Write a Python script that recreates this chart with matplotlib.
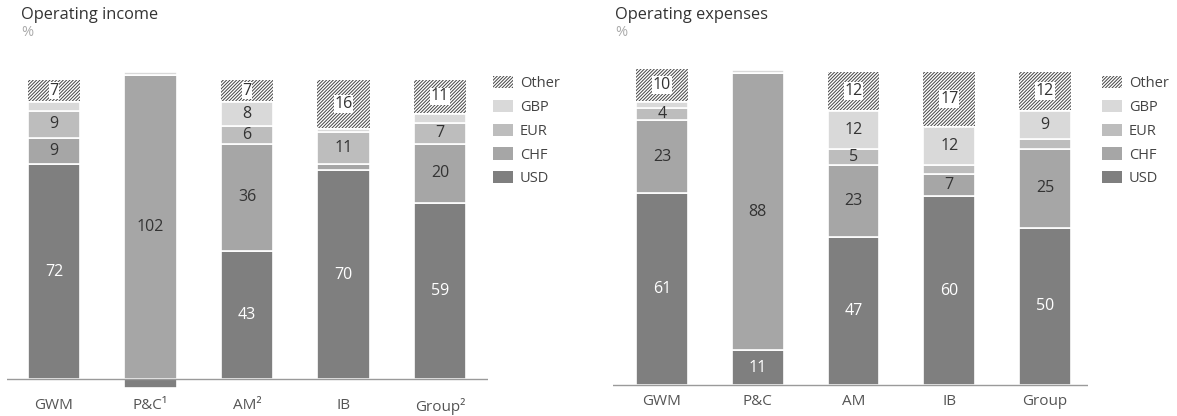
import numpy as np
import matplotlib
matplotlib.use("Agg")
import matplotlib.pyplot as plt
from matplotlib.patches import Patch

plt.rcParams['font.family'] = ['Open Sans', 'DejaVu Sans']
plt.rcParams['hatch.linewidth'] = 0.7

# data (percent)
segments = ['GWM', 'P&C', 'AM', 'IB', 'Group']
income_ticks = ['GWM', 'P&C\u00b9', 'AM\u00b2', 'IB', 'Group\u00b2']
expense_ticks = ['GWM', 'P&C', 'AM', 'IB', 'Group']

income_usd = [72, -3, 43, 70, 59]
income_chf = [9, 102, 36, 2, 20]
income_eur = [9, 0, 6, 11, 7]
income_gbp = [3, 1, 8, 1, 3]
income_other = [7, 0, 7, 16, 11]

expense_usd = [61, 11, 47, 60, 50]
expense_chf = [23, 88, 23, 7, 25]
expense_eur = [4, 0, 5, 3, 3]
expense_gbp = [2, 1, 12, 12, 9]
expense_other = [10, 0, 12, 17, 12]

currencies = ['USD', 'CHF', 'EUR', 'GBP', 'Other']
colors = {'USD': '#7f7f7f', 'CHF': '#a6a6a6', 'EUR': '#bdbdbd',
          'GBP': '#d9d9d9', 'Other': 'white'}
HATCH = '//////////'

W, H = 1177, 416
fig = plt.figure(figsize=(W / 100, H / 100), dpi=100)


def px_axes(x0, x1, ytop, ybot):
    return fig.add_axes([x0 / W, (H - ybot) / H, (x1 - x0) / W, (ybot - ytop) / H])


def draw(ax, data, ticks, xlim, ylim):
    x = np.arange(len(segments))
    width = 0.54
    pos = np.zeros(len(x))
    neg = np.zeros(len(x))
    for cur in currencies:
        vals = np.array(data[cur], dtype=float)
        bottoms = np.where(vals >= 0, pos, neg)
        if cur == 'Other':
            ax.bar(x, vals, width, bottom=bottoms + 0.3, color='white',
                   edgecolor='#444444', linewidth=0, hatch=HATCH)
        else:
            ax.bar(x, vals, width, bottom=bottoms, color=colors[cur],
                   edgecolor='white', linewidth=1.2)
        for i, v in enumerate(vals):
            if abs(v) < 4:
                continue
            yc = bottoms[i] + v / 2
            if cur == 'Other':
                ax.text(x[i], yc + 0.3, f'{v:.0f}', ha='center', va='center',
                        fontsize=11.5, color='#333333',
                        bbox=dict(facecolor='white', edgecolor='none', pad=0.6))
            else:
                ax.text(x[i], yc, f'{v:.0f}', ha='center', va='center', fontsize=11.5,
                        color='white' if cur == 'USD' else '#333333')
        pos = np.where(vals >= 0, pos + vals, pos)
        neg = np.where(vals < 0, neg + vals, neg)
    ax.axhline(0, color='#9a9a9a', linewidth=1)
    ax.set_xlim(*xlim)
    ax.set_ylim(*ylim)
    ax.set_xticks(x)
    ax.set_xticklabels(ticks, fontsize=11, color='#555555')
    ax.tick_params(axis='x', length=0, pad=3.2)
    ax.set_yticks([])
    for s in ax.spines.values():
        s.set_visible(False)


income = dict(zip(currencies, [income_usd, income_chf, income_eur, income_gbp, income_other]))
expense = dict(zip(currencies, [expense_usd, expense_chf, expense_eur, expense_gbp, expense_other]))

ax1 = px_axes(7, 488, 66.1, 393.9)
draw(ax1, income, income_ticks, (-0.487, 4.497), (-5, 105))

ax2 = px_axes(613, 1088, 54.25, 389.1)
draw(ax2, expense, expense_ticks, (-0.512, 4.45), (-1.3, 105))

# titles
for xt, title in [(21, 'Operating income'), (615, 'Operating expenses')]:
    fig.text(xt / W, 1 - 15 / H, title, fontsize=11.8, color='#333333', va='center')
    fig.text(xt / W, 1 - 33 / H, '%', fontsize=10.5, color='#aaaaaa', va='center')

# legends
handles = [Patch(facecolor='white', edgecolor='#444444', linewidth=0, hatch=HATCH, label='Other'),
           Patch(facecolor=colors['GBP'], label='GBP'),
           Patch(facecolor=colors['EUR'], label='EUR'),
           Patch(facecolor=colors['CHF'], label='CHF'),
           Patch(facecolor=colors['USD'], label='USD')]
for xl in [493, 1102]:
    fig.legend(handles=handles, loc='upper left', bbox_to_anchor=(xl / W, 1 - 76 / H),
               frameon=False, fontsize=10.5, handlelength=1.4, handleheight=0.9,
               labelspacing=0.6, handletextpad=0.45, borderpad=0, borderaxespad=0,
               labelcolor='#444444')

fig.savefig('out.png', dpi=100)
